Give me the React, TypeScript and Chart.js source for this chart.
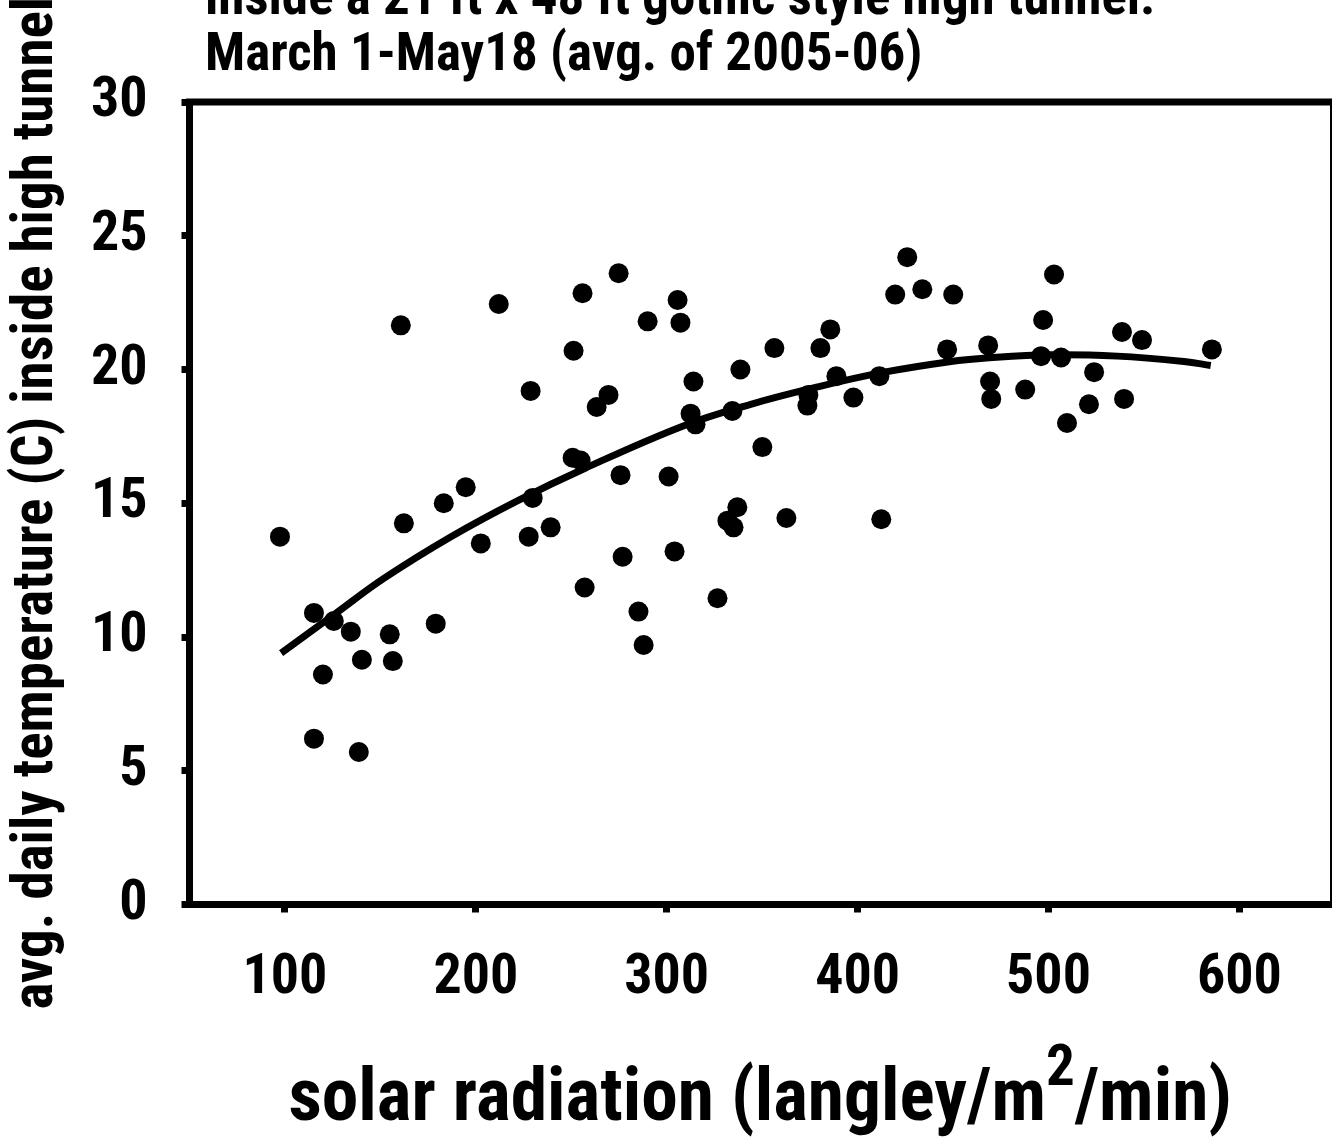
import React, { useEffect, useRef } from "react";
import { Chart, registerables } from "chart.js";

Chart.register(...registerables);

const FONT = '"Roboto Condensed", "Liberation Sans Narrow", "Arial Narrow", sans-serif';

const titleLines = [
  "inside a 21 ft x 48 ft gothic style high tunnel.",
  "March 1-May18 (avg. of 2005-06)",
];
const yAxisTitle = "avg. daily temperature (C) inside high tunnel";
const xTitleParts = ["solar radiation (langley/m", "2", "/min)"];

const xTicks = [100, 200, 300, 400, 500, 600];
const yTicks = [0, 5, 10, 15, 20, 25, 30];

// observed daily values
const radiation = [
  97.4, 115.2, 125.6, 119.9, 115.2, 138.7, 134.5, 140.3, 154.9, 156.5,
  160.7, 162.3, 179.0, 183.2, 194.7, 202.6, 212.0, 227.7, 228.7, 229.8,
  239.2, 251.2, 250.7, 254.9, 255.9, 257.0, 263.3, 269.5, 274.8, 275.8,
  276.9, 285.2, 287.9, 290.0, 301.0, 304.1, 305.7, 307.2, 312.5, 314.0,
  315.1, 326.6, 331.8, 335.0, 337.0, 334.4, 338.6, 350.1, 356.4, 362.7,
  373.7, 374.2, 380.5, 385.7, 388.9, 397.8, 411.4, 412.4, 419.7, 426.0,
  433.9, 450.1, 446.9, 468.4, 469.4, 470.0, 487.8, 497.2, 496.1, 502.9,
  506.6, 509.7, 521.2, 523.9, 538.5, 539.6, 549.0, 585.6,
];
const temperature = [
  13.75, 10.9, 10.6, 8.6, 6.2, 5.7, 10.2, 9.15, 10.1, 9.1,
  21.65, 14.25, 10.5, 15.0, 15.6, 13.5, 22.45, 13.75, 19.2, 15.2,
  14.1, 20.7, 16.7, 16.6, 22.85, 11.85, 18.6, 19.05, 23.6, 16.05,
  13.0, 10.95, 9.7, 21.8, 16.0, 13.2, 22.6, 21.75, 18.35, 19.55,
  17.95, 11.45, 14.35, 14.1, 14.85, 18.45, 20.0, 17.1, 20.8, 14.45,
  18.65, 19.05, 20.8, 21.5, 19.75, 18.95, 19.75, 14.4, 22.8, 24.2,
  23.0, 22.8, 20.75, 20.9, 19.55, 18.9, 19.25, 21.85, 20.5, 23.55,
  20.45, 18.0, 18.7, 19.9, 21.4, 18.9, 21.1, 20.75,
];

// fitted trend curve
const trendX = [98, 126, 152, 187, 222, 257, 309, 344, 379, 414, 449, 466, 501, 536, 571, 585];
const trendY = [9.4, 10.85, 12.2, 13.75, 15.1, 16.3, 17.9, 18.7, 19.35, 19.9, 20.3, 20.42, 20.55, 20.5, 20.3, 20.15];

const decor = {
  id: "decor",
  afterDraw(chart: any) {
    const { ctx, chartArea: a } = chart;
    ctx.save();
    ctx.fillStyle = "#000";
    // top frame (thick) and right frame (thin)
    ctx.fillRect(a.left - 3.5, a.top - 3.5, a.right - a.left + 4.5, 7);
    ctx.fillRect(a.right - 1, a.top, 2, a.bottom - a.top);
    // title
    ctx.font = `bold 53px ${FONT}`;
    ctx.textAlign = "left";
    ctx.textBaseline = "alphabetic";
    titleLines.forEach((t, i) => ctx.fillText(t, 205, 14 + i * 56));
    // x axis title with superscript
    const mainFont = `bold 73.5px ${FONT}`;
    const supFont = `bold 57px ${FONT}`;
    ctx.font = mainFont;
    const w0 = ctx.measureText(xTitleParts[0]).width;
    const w2 = ctx.measureText(xTitleParts[2]).width;
    ctx.font = supFont;
    const w1 = ctx.measureText(xTitleParts[1]).width;
    const total = w0 + w1 + w2;
    let x = (a.left + a.right) / 2 - total / 2;
    const base = 1120;
    ctx.font = mainFont;
    ctx.fillText(xTitleParts[0], x, base);
    x += w0;
    ctx.font = supFont;
    ctx.fillText(xTitleParts[1], x, base - 35);
    x += w1;
    ctx.font = mainFont;
    ctx.fillText(xTitleParts[2], x, base);
    ctx.restore();
  },
};

export default function App() {
  const ref = useRef<HTMLCanvasElement>(null);
  useEffect(() => {
    if (!ref.current) return;
    const chart = new Chart(ref.current, {
      type: "scatter",
      data: {
        datasets: [
          {
            label: "observed",
            data: radiation.map((r, i) => ({ x: r, y: temperature[i] })),
            backgroundColor: "#000",
            borderWidth: 0,
            pointRadius: 10,
            pointHoverRadius: 10,
            order: 2,
          },
          {
            type: "line",
            label: "trend",
            data: trendX.map((r, i) => ({ x: r, y: trendY[i] })),
            borderColor: "#000",
            borderWidth: 7,
            pointRadius: 0,
            showLine: true,
            fill: false,
            tension: 0.4,
            borderCapStyle: "butt",
            order: 1,
          } as any,
        ],
      },
      options: {
        animation: false,
        responsive: true,
        maintainAspectRatio: false,
        layout: { autoPadding: false, padding: { top: 102, right: 1, left: 0, bottom: 0 } },
        plugins: {
          legend: { display: false },
          tooltip: { enabled: false },
          title: { display: false },
        },
        scales: {
          x: {
            type: "linear",
            min: 50,
            max: 648,
            afterBuildTicks: (scale: any) => {
              scale.ticks = xTicks.map((v) => ({ value: v }));
            },
            afterFit: (scale: any) => {
              scale.height = 238.5;
              scale.paddingRight = 0;
              scale.paddingLeft = 0;
            },
            grid: {
              drawOnChartArea: false,
              drawTicks: true,
              tickLength: 8,
              tickWidth: 7,
              tickColor: "#000",
            },
            border: { display: true, color: "#000", width: 7 },
            ticks: {
              color: "#000",
              padding: 33,
              font: { family: FONT, size: 56, weight: "bold" },
              maxRotation: 0,
            },
            title: { display: false },
          },
          y: {
            type: "linear",
            min: 0,
            max: 30,
            afterBuildTicks: (scale: any) => {
              scale.ticks = yTicks.map((v) => ({ value: v }));
            },
            afterFit: (scale: any) => {
              scale.width = 189.5;
            },
            grid: {
              drawOnChartArea: false,
              drawTicks: true,
              tickLength: 8,
              tickWidth: 7,
              tickColor: "#000",
            },
            border: { display: true, color: "#000", width: 7 },
            ticks: {
              color: "#000",
              padding: 34,
              font: { family: FONT, size: 56, weight: "bold" },
            },
            title: {
              display: true,
              text: yAxisTitle,
              color: "#000",
              font: { family: FONT, size: 57, weight: "bold" },
              padding: { top: 4, bottom: 0 },
            },
          },
        },
      },
      plugins: [decor],
    });
    return () => chart.destroy();
  }, []);
  return (
    <div style={{ position: "fixed", left: 0, top: 0, width: 1332, height: 1143, background: "#fff" }}>
      <canvas ref={ref} />
    </div>
  );
}
